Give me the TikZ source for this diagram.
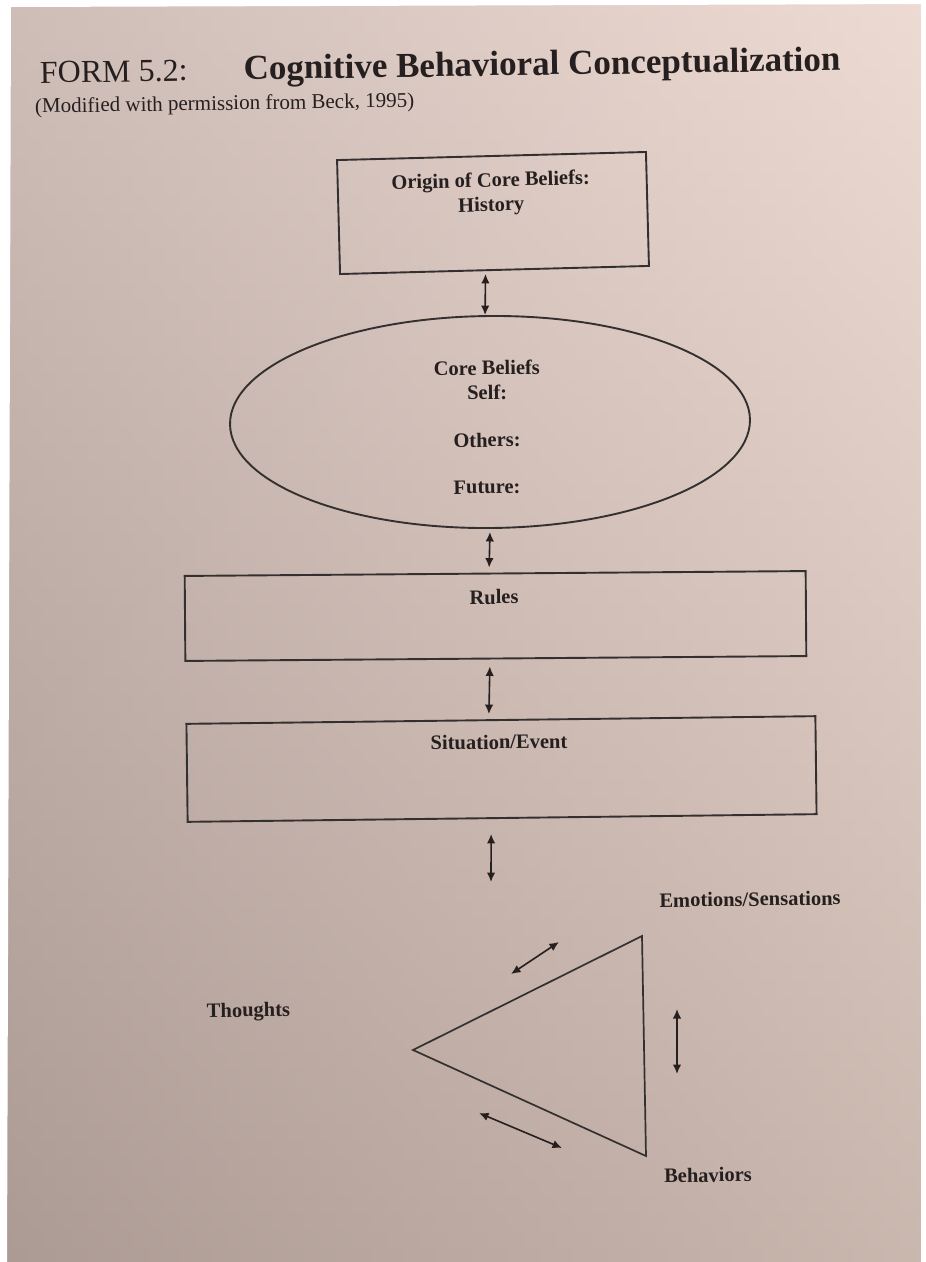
\documentclass[tikz,border=0pt]{standalone}
\usepackage{fontspec}
\setmainfont{Liberation Serif}
\usetikzlibrary{arrows.meta,shapes.geometric}

\definecolor{ink}{HTML}{261F1F}
\definecolor{linecol}{HTML}{353030}
\definecolor{papM}{RGB}{200,185,178}
\definecolor{papT}{RGB}{230,213,205}
\definecolor{papB}{RGB}{158,141,131}
\definecolor{papL}{RGB}{184,167,163}
\definecolor{papR}{RGB}{246,226,219}

\begin{document}
\begin{tikzpicture}[
  x=1pt, y=-1pt,
  frame/.style={draw=linecol, line width=1.9pt, rectangle, inner sep=0pt},
  oval/.style={draw=linecol, line width=1.9pt, ellipse, inner sep=0pt},
  lbl/.style={text=ink, font=\bfseries\fontsize{20.5}{24.5}\selectfont, inner sep=0pt, align=center},
  tilt/.style={rotate=#1},
  biarrow/.style={draw=ink, line width=1.6pt, {Latex[length=9.5pt,width=8.5pt]}-{Latex[length=9.5pt,width=8.5pt]}},
]
\useasboundingbox (0,0) rectangle (926,1262);

% paper: two crossed gradients blended, white page edges left, top and right
\fill[papM] (-12,-12) rectangle (938,1274);
\shade[top color=papT, bottom color=papB] (-12,-12) rectangle (938,1274);
\shade[left color=papL, right color=papR, opacity=0.5] (-12,-12) rectangle (938,1274);
\fill[white] (-12,-12) -- (938,-12) -- (938,4) -- (11,7) -- (7,1274) -- (-12,1274) -- cycle;
\fill[white] (921,-12) rectangle (938,1274);

% heading
\node[anchor=base west, inner sep=0pt, text=ink, tilt=0.9] (title) at (40,83)
  {\fontsize{32}{36}\selectfont FORM 5.2:\hspace{56pt}{\bfseries\fontsize{35}{40}\selectfont Cognitive Behavioral Conceptualization}};
\node[anchor=base west, inner sep=0pt, text=ink, tilt=0.9] (source) at (35,113)
  {\fontsize{21}{24}\selectfont (Modified with permission from Beck, 1995)};

% boxes and ellipse
\node[frame, tilt=1.5, minimum width=309pt, minimum height=114pt] (origin) at (493,213) {};
\node[lbl, tilt=1.5] (origintxt) at (491,194) {Origin of Core Beliefs:\\History};

\node[oval, tilt=0.5, minimum width=520pt, minimum height=212pt] (core) at (490,422) {};
\node[lbl, tilt=0.8] (coretxt) at (487,380) {Core Beliefs\\Self:};
\node[lbl, tilt=0.8] (others) at (487,440) {Others:};
\node[lbl, tilt=0.8] (future) at (487,487) {Future:};

\node[frame, tilt=0.45, minimum width=621pt, minimum height=85pt] (rules) at (495.5,616) {};
\node[lbl, tilt=0.45] (rulestxt) at (494,597) {Rules};

\node[frame, tilt=0.7, minimum width=629pt, minimum height=98pt] (sit) at (501.5,769) {};
\node[lbl, tilt=0.7] (sittxt) at (499,742) {Situation/Event};

% vertical links
\draw[biarrow] ([xshift=-9pt,yshift=-3pt]origin.south) -- ([xshift=-4pt]core.north);
\draw[biarrow] ([xshift=-1pt,yshift=-3pt]core.south) -- ([xshift=-6pt,yshift=5pt]rules.north);
\draw[biarrow] ([xshift=-6pt,yshift=-7pt]rules.south) -- ([xshift=-12pt,yshift=5pt]sit.north);
\coordinate (a4end) at (491,882);
\draw[biarrow] ([xshift=-11pt,yshift=-15pt]sit.south) -- (a4end);

% thoughts / emotions / behaviors triangle
\coordinate (T) at (413,1050);
\coordinate (E) at (642,936);
\coordinate (B) at (646,1156);
\draw[draw=linecol, line width=1.7pt, line join=miter] (T) -- (E) -- (B) -- cycle;

\node[lbl, tilt=0.8] (emotions) at (750,899) {Emotions/Sensations};
\node[lbl, tilt=0.8] (thoughts) at (248.5,1012) {Thoughts};
\node[lbl, tilt=0.8] (behaviors) at (708,1175) {Behaviors};

\coordinate (te1) at (511,974);
\coordinate (te2) at (559,942);
\coordinate (eb1) at (677,1009);
\coordinate (eb2) at (677,1074);
\coordinate (tb1) at (479,1113);
\coordinate (tb2) at (562,1148);
\draw[biarrow] (te1) -- (te2);
\draw[biarrow] (eb1) -- (eb2);
\draw[biarrow] (tb1) -- (tb2);
\end{tikzpicture}
\end{document}
